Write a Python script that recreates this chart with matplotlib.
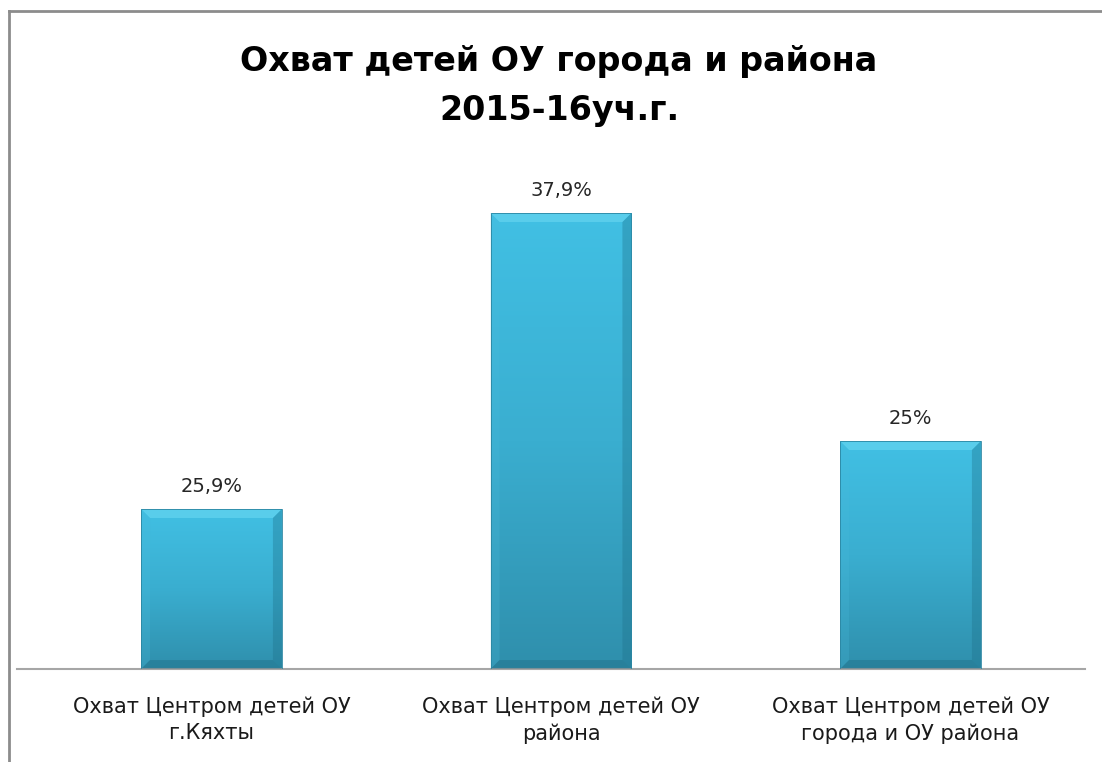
import matplotlib.pyplot as plt
import numpy as np
from matplotlib.colors import LinearSegmentedColormap
from matplotlib.patches import Polygon, Rectangle

# bar heights as drawn (the printed labels do not follow one scale)
categories = [
    "Охват Центром детей ОУ\nг.Кяхты",
    "Охват Центром детей ОУ\nрайона",
    "Охват Центром детей ОУ\nгорода и ОУ района",
]
heights = [13.3, 37.9, 18.95]
value_labels = ["25,9%", "37,9%", "25%"]
title = "Охват детей ОУ города и района\n2015-16уч.г."

fig = plt.figure(figsize=(11.02, 7.62), dpi=100)
ax = fig.add_axes([17 / 1102, 93 / 762, 1068 / 1102, 519 / 762])

x = np.arange(len(categories))
bars = ax.bar(x, heights, width=0.403, color="none", edgecolor="none", zorder=2)
ax.set_xlim(-0.5565, 2.4993)
ax.set_ylim(0, 43.14)

cmap = LinearSegmentedColormap.from_list("blu", ["#2f8fac", "#3aaed0", "#41c0e4"])
grad = np.linspace(0, 1, 256).reshape(-1, 1)

fig.canvas.draw()
inv = ax.transData.inverted()
# bevel size in data units (about 9 px)
p0 = inv.transform((0, 0))
p1 = inv.transform((9, 9))
bx, by = p1 - p0

for b in bars:
    x0, y0, w, h = b.get_x(), b.get_y(), b.get_width(), b.get_height()
    im = ax.imshow(grad, cmap=cmap, origin="lower", aspect="auto",
                   extent=(x0, x0 + w, y0, y0 + h), zorder=2)
    im.set_clip_path(b)
    top = [(x0, y0 + h), (x0 + w, y0 + h), (x0 + w - bx, y0 + h - by), (x0 + bx, y0 + h - by)]
    left = [(x0, y0), (x0, y0 + h), (x0 + bx, y0 + h - by), (x0 + bx, y0 + by)]
    right = [(x0 + w, y0), (x0 + w, y0 + h), (x0 + w - bx, y0 + h - by), (x0 + w - bx, y0 + by)]
    bottom = [(x0, y0), (x0 + w, y0), (x0 + w - bx, y0 + by), (x0 + bx, y0 + by)]
    ax.add_patch(Polygon(top, closed=True, color="#6ad8f2", alpha=0.6, lw=0, zorder=3))
    ax.add_patch(Polygon(left, closed=True, color="#49b9da", alpha=0.25, lw=0, zorder=3))
    ax.add_patch(Polygon(right, closed=True, color="#1d6f88", alpha=0.35, lw=0, zorder=3))
    ax.add_patch(Polygon(bottom, closed=True, color="#1a5f75", alpha=0.3, lw=0, zorder=3))
    ax.add_patch(Rectangle((x0, y0), w, h, fill=False, ec="#2b86a2", lw=0.6, zorder=4))

for b, lab in zip(bars, value_labels):
    ax.annotate(lab, (b.get_x() + b.get_width() / 2, b.get_height()),
                xytext=(0, 16), textcoords="offset points", ha="center", va="center",
                fontsize=14, color="#262626")

ax.set_xticks(x)
ax.set_xticklabels(categories, fontsize=15, color="#1a1a1a", linespacing=1.35)
ax.tick_params(axis="x", length=0, pad=20)
ax.set_yticks([])
for s in ["left", "right", "top"]:
    ax.spines[s].set_visible(False)
ax.spines["bottom"].set_color("#a6a6a6")
ax.spines["bottom"].set_linewidth(1.5)

fig.text(559 / 1102, 1 - 86 / 762, title, ha="center", va="center", fontsize=24,
         fontweight="bold", linespacing=1.6)

# chart frame (only top and left edges are visible in the crop)
fig.add_artist(plt.Line2D([9 / 1102, 1], [1 - 11 / 762, 1 - 11 / 762], color="#8c8c8c", lw=2))
fig.add_artist(plt.Line2D([9 / 1102, 9 / 1102], [0, 1 - 11 / 762], color="#8c8c8c", lw=2))

fig.savefig("out.png", dpi=100)
